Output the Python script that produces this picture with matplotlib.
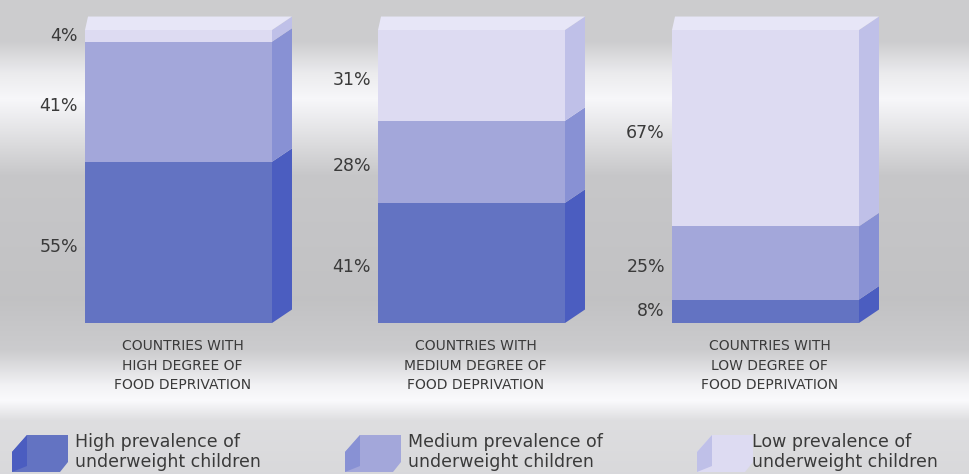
import numpy as np
import matplotlib.pyplot as plt
from matplotlib.patches import Polygon, Rectangle

# data
categories = ["COUNTRIES WITH\nHIGH DEGREE OF\nFOOD DEPRIVATION",
              "COUNTRIES WITH\nMEDIUM DEGREE OF\nFOOD DEPRIVATION",
              "COUNTRIES WITH\nLOW DEGREE OF\nFOOD DEPRIVATION"]
series = ["High prevalence of\nunderweight children",
          "Medium prevalence of\nunderweight children",
          "Low prevalence of\nunderweight children"]
high = [55, 41, 8]
medium = [41, 28, 25]
low = [4, 31, 67]

front_colors = ['#6373c2', '#a3a7da', '#dddbf2']
side_colors = ['#4b5dc0', '#8891d4', '#bfc0e8']
top_color = '#e7e6f7'
text_color = '#3a3a3a'

plt.rcParams['font.family'] = ['DejaVu Sans']

fig = plt.figure(figsize=(9.7, 4.74), dpi=100)

# brushed-silver background
bg = fig.add_axes([0, 0, 1, 1])
ys = np.arange(474)
pts_y = [0, 40, 72, 98, 128, 175, 300, 350, 385, 400, 420, 474]
pts_v = [0.80, 0.80, 0.92, 0.97, 0.90, 0.78, 0.76, 0.80, 0.95, 0.98, 0.87, 0.85]
col = np.interp(ys, pts_y, pts_v)
img = np.ones((474, 970, 3)) * col[:, None, None]
img[:, :, 2] = np.clip(img[:, :, 2] * 1.01, 0, 1)
bg.imshow(img, extent=(0, 970, 474, 0), aspect='auto', zorder=0)
bg.set_xlim(0, 970)
bg.set_ylim(474, 0)
bg.axis('off')

# chart axes: y in percent, x in pixels
ax = fig.add_axes([0, 151 / 474, 1, 293 / 474])
ax.set_xlim(0, 970)
ax.set_ylim(0, 100)
ax.axis('off')
ax.patch.set_alpha(0)

lefts = [85, 378, 672]
width = 187
dx, dy = 20, 4.6

for i, cat in enumerate(categories):
    x0 = lefts[i]
    x1 = x0 + width
    vals = [high[i], medium[i], low[i]]
    bottom = 0
    for j, v in enumerate(vals):
        top = bottom + v
        ax.add_patch(Rectangle((x0, bottom), width, v, facecolor=front_colors[j],
                               edgecolor='none', clip_on=False, zorder=2))
        ax.add_patch(Polygon([(x1, bottom), (x1 + dx, bottom + dy),
                              (x1 + dx, top + dy), (x1, top)],
                             facecolor=side_colors[j], edgecolor='none',
                             clip_on=False, zorder=2))
        ax.text(x0 - 7, (bottom + top) / 2 - (1.5 if v > 10 else 0), f"{v}%",
                ha='right', va='center', fontsize=12.5, color=text_color)
        bottom = top
    ax.add_patch(Polygon([(x0, bottom), (x1, bottom), (x1 + dx, bottom + dy),
                          (x0 + 3, bottom + dy)],
                         facecolor=top_color, edgecolor='none',
                         clip_on=False, zorder=2))
    ax.text(x0 + width / 2 + 4, -5.5, cat, ha='center', va='top', fontsize=10,
            color=text_color, linespacing=1.5)

# legend with little cube icons (pixel coords)
icon_x = [12, 345, 697]
text_x = [75, 408, 752]
for j, lab in enumerate(series):
    x = icon_x[j]
    bg.add_patch(Polygon([(x, 452), (x + 15, 435), (x + 56, 435), (x + 56, 462),
                          (x + 48, 472), (x, 472)],
                         facecolor=front_colors[j], edgecolor='none', zorder=2))
    bg.add_patch(Polygon([(x, 452), (x + 15, 435), (x + 15, 466), (x, 472)],
                         facecolor=side_colors[j], edgecolor='none', zorder=2))
    bg.text(text_x[j], 452, lab, ha='left', va='center', fontsize=12.5,
            color=text_color, linespacing=1.15)

fig.savefig('out.png', dpi=100)
